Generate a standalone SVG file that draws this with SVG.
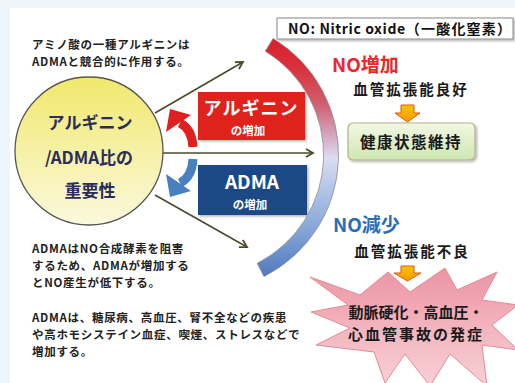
<svg xmlns="http://www.w3.org/2000/svg" width="515" height="383" viewBox="0 0 515 383">
<style>
  text { font-family: "Noto Sans CJK JP", "Noto Sans", sans-serif; }
  .body { font-size: 11.5px; font-weight: bold; fill: #222; letter-spacing: 0.7px; }
  .circ { font-size: 17px; font-weight: bold; fill: #2b2d5a; text-anchor: middle; }
  .wh { fill: #fff; font-weight: bold; text-anchor: middle; }
  .blk { font-weight: bold; fill: #1a1a1a; text-anchor: middle; }
  .conn { stroke: #4b4a2e; stroke-width: 1.6; fill: none; marker-end: url(#chev); }
  .oarrow { fill: url(#orangeG); stroke: #e0561a; stroke-width: 1; }
</style>
<defs>
  <marker id="chev" markerWidth="10" markerHeight="10" refX="8" refY="5" orient="auto" markerUnits="userSpaceOnUse">
    <path d="M1,1 L8,5 L1,9" fill="none" stroke="#4b4a2e" stroke-width="1.8"/>
  </marker>
  <linearGradient id="circG" x1="0" y1="0" x2="0" y2="1">
    <stop offset="0" stop-color="#f1e86c"/>
    <stop offset="1" stop-color="#fbf9de"/>
  </linearGradient>
  <linearGradient id="arcG" gradientUnits="userSpaceOnUse" x1="0" y1="38" x2="0" y2="277">
    <stop offset="0" stop-color="#dc1f28"/>
    <stop offset="0.12" stop-color="#d9303a"/>
    <stop offset="0.28" stop-color="#d06070"/>
    <stop offset="0.40" stop-color="#d4a2bc"/>
    <stop offset="0.50" stop-color="#dcdcf2"/>
    <stop offset="0.62" stop-color="#b6c8e8"/>
    <stop offset="0.80" stop-color="#86a6d8"/>
    <stop offset="1" stop-color="#5078bc"/>
  </linearGradient>
  <linearGradient id="greenG" x1="0" y1="0" x2="0" y2="1">
    <stop offset="0" stop-color="#f2f8e4"/>
    <stop offset="1" stop-color="#cfe6b0"/>
  </linearGradient>
  <linearGradient id="orangeG" x1="0" y1="0" x2="0" y2="1">
    <stop offset="0" stop-color="#f8c400"/>
    <stop offset="1" stop-color="#f39a00"/>
  </linearGradient>
  <linearGradient id="pinkG" x1="0" y1="0" x2="0" y2="1">
    <stop offset="0" stop-color="#ec94a2"/>
    <stop offset="0.5" stop-color="#f3b4be"/>
    <stop offset="1" stop-color="#f8d0d6"/>
  </linearGradient>
  <filter id="sh" x="-10%" y="-10%" width="130%" height="130%">
    <feDropShadow dx="1.5" dy="1.5" stdDeviation="1" flood-color="#000" flood-opacity="0.3"/>
  </filter>
</defs>

<rect x="0" y="0" width="515" height="383" fill="#eef6fb"/>
<rect x="10" y="8" width="505" height="375" fill="#ffffff"/>

<g id="note-top">
  <text class="body" x="32" y="49">アミノ酸の一種アルギニンは</text>
  <text class="body" x="32" y="66">ADMAと競合的に作用する。</text>
</g>

<g id="note-bottom1">
  <text class="body" x="32" y="253">ADMAはNO合成酵素を阻害</text>
  <text class="body" x="32" y="270">するため、ADMAが増加する</text>
  <text class="body" x="32" y="287">とNO産生が低下する。</text>
</g>

<g id="note-bottom2">
  <text class="body" x="32" y="322">ADMAは、糖尿病、高血圧、腎不全などの疾患</text>
  <text class="body" x="32" y="339">や高ホモシステイン血症、喫煙、ストレスなどで</text>
  <text class="body" x="32" y="356">増加する。</text>
</g>

<g id="connectors">
  <path class="conn" d="M155 113 L243 62"/>
  <path class="conn" d="M163 153 L313 153"/>
  <path class="conn" d="M155 195 L247 247"/>
</g>

<g id="circle">
  <circle cx="89" cy="151" r="74" fill="url(#circG)" stroke="#555" stroke-width="1.3"/>
  <text class="circ" x="90" y="129">アルギニン</text>
  <text class="circ" x="89" y="164">/ADMA比の</text>
  <text class="circ" x="90" y="197">重要性</text>
</g>

<g id="red-arrow">
  <path d="M180 123 Q192 129 193 147" fill="none" stroke="#e0201f" stroke-width="9"/>
  <polygon points="170,109 166,132 191,115" fill="#e0201f"/>
</g>

<g id="blue-arrow">
  <path d="M180 183 Q192 177 193 159" fill="none" stroke="#4a80c0" stroke-width="9"/>
  <polygon points="170,197 166,174 191,191" fill="#4a80c0"/>
</g>

<g id="box-arginine">
  <rect x="198" y="92" width="107" height="48" fill="#e0201f" filter="url(#sh)"/>
  <text class="wh" x="251" y="115" font-size="18" letter-spacing="1">アルギニン</text>
  <text class="wh" x="248" y="135" font-size="11.5">の増加</text>
</g>

<g id="box-adma">
  <rect x="198" y="165" width="109" height="50" fill="#1e4a86" filter="url(#sh)"/>
  <text class="wh" x="252" y="189" font-size="19">ADMA</text>
  <text class="wh" x="250" y="209" font-size="11.5">の増加</text>
</g>

<g id="arc">
  <path d="M273.1 38.4 A136.5 136.5 0 0 1 264.0 276.6 L257.2 263.3 A121.5 121.5 0 0 0 265.3 51.2 Z" fill="url(#arcG)" stroke="#8a8a96" stroke-width="0.8"/>
</g>

<g id="no-box">
  <rect x="277" y="18" width="236" height="21" fill="#fff" stroke="#8a8a8a" stroke-width="1" filter="url(#sh)"/>
  <text x="288" y="34" font-size="14" font-weight="bold" fill="#111" letter-spacing="0.6">NO: Nitric oxide<tspan letter-spacing="1.2">（一酸化窒素）</tspan></text>
</g>

<g id="no-up">
  <text x="332" y="72" font-size="19" font-weight="bold" fill="#e8282c">NO増加</text>
  <text class="blk" x="411" y="95" font-size="14.5" letter-spacing="2">血管拡張能良好</text>
  <path class="oarrow" d="M401 105 H414 V113 H420 L407.5 122 L395 113 H401 Z"/>
</g>

<g id="health">
  <rect x="348" y="123" width="127" height="37" rx="5" fill="url(#greenG)" stroke="#b8b08c" stroke-width="1.2" filter="url(#sh)"/>
  <text class="blk" x="411" y="148" font-size="15.5" letter-spacing="1.5">健康状態維持</text>
</g>

<g id="no-down">
  <text x="333" y="232" font-size="19" font-weight="bold" fill="#2a6cb8">NO減少</text>
  <text class="blk" x="412" y="257" font-size="14.5" letter-spacing="2">血管拡張能不良</text>
</g>

<g id="disease">
  <polygon points="310,277 360,295 388,272 410,292 445,268 457,290 497,272 482,300 518,305 492,325 518,350 482,345 487,386 450,354 430,386 405,354 385,383 374,352 316,345 350,328 311,312 348,305" fill="url(#pinkG)" stroke="#e08c98" stroke-width="1"/>
  <path class="oarrow" d="M401 266 H414 V273 H421 L407.5 281 L394 273 H401 Z"/>
  <text class="blk" x="416" y="318" font-size="15">動脈硬化・高血圧・</text>
  <text class="blk" x="416" y="340" font-size="15" letter-spacing="2">心血管事故の発症</text>
</g>
</svg>
